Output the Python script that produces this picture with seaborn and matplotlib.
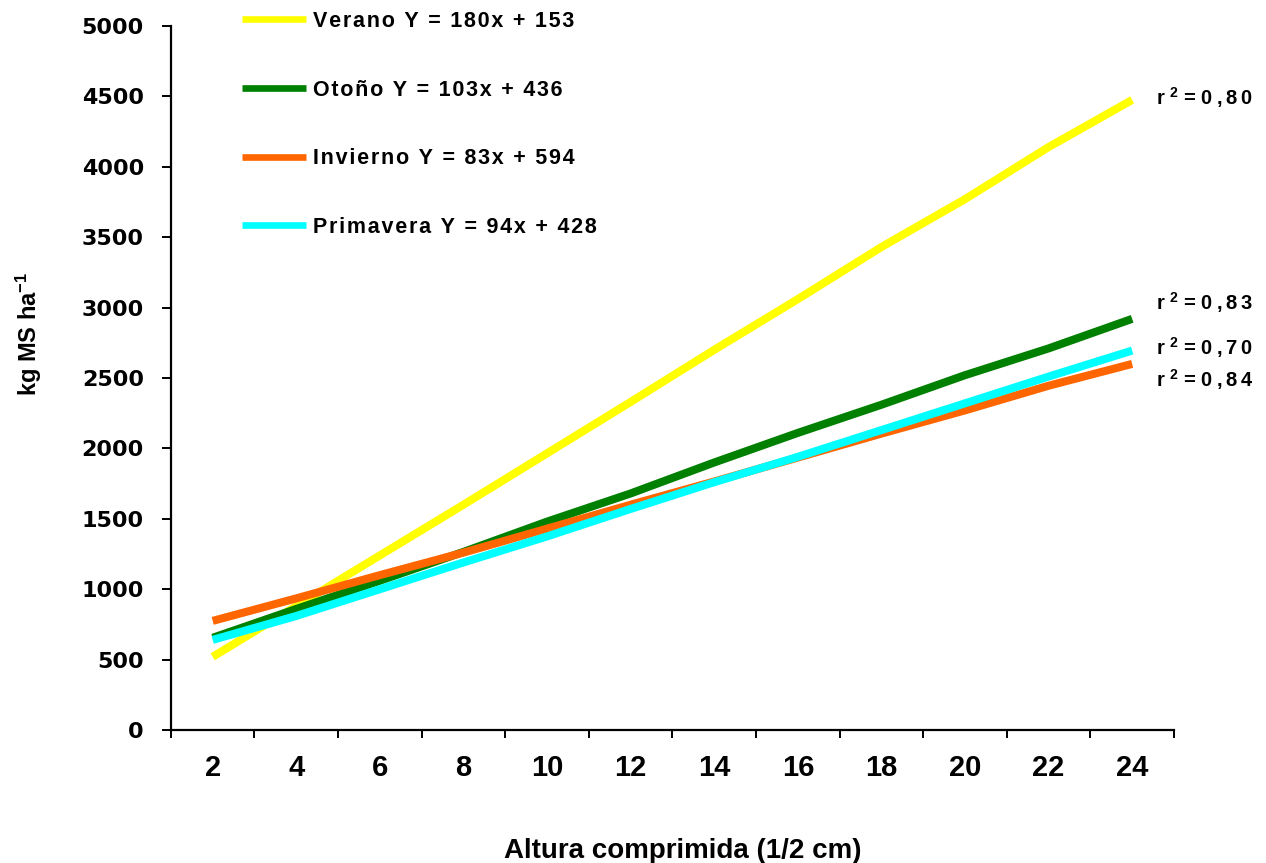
import numpy as np
import pandas as pd
import matplotlib
matplotlib.use("Agg")
import matplotlib.pyplot as plt
import seaborn as sns

# --- datos ---
alturas = ['2', '4', '6', '8', '10', '12', '14', '16', '18', '20', '22', '24']

verano = [520, 880, 1240, 1600, 1965, 2330, 2700, 3060, 3430, 3770, 4140, 4475]
otono = [655, 860, 1060, 1265, 1480, 1680, 1900, 2110, 2310, 2520, 2710, 2920]
invierno = [775, 935, 1100, 1260, 1430, 1600, 1765, 1935, 2105, 2270, 2445, 2600]
primavera = [640, 810, 1000, 1190, 1375, 1570, 1760, 1940, 2130, 2320, 2510, 2695]

estaciones = ['Verano', 'Otoño', 'Invierno', 'Primavera']
ecuaciones = ['Y = 180x + 153', 'Y = 103x + 436', 'Y = 83x + 594', 'Y = 94x + 428']
r2 = ['0,80', '0,83', '0,84', '0,70']
colores = ['#FFFF00', '#008000', '#FF6600', '#00FFFF']


def espaciar(txt, sep='\u200a'):
    # Excel dibuja el texto con mucho espaciado entre letras
    return sep.join(txt)


sns.set_style('white')
plt.rcParams['font.family'] = ['Liberation Sans', 'DejaVu Sans']
plt.rcParams['font.weight'] = 'bold'
plt.rcParams['text.color'] = 'black'
plt.rcParams['axes.labelcolor'] = 'black'
plt.rcParams['xtick.color'] = 'black'
plt.rcParams['ytick.color'] = 'black'
plt.rcParams['mathtext.fontset'] = 'custom'
plt.rcParams['mathtext.bf'] = 'Liberation Sans:bold'
plt.rcParams['mathtext.rm'] = 'Liberation Sans:bold'
plt.rcParams['mathtext.default'] = 'bf'

etiquetas = [f'{e} {q}' for e, q in zip(estaciones, ecuaciones)]
df = pd.DataFrame({
    'altura': alturas * 4,
    'kg': verano + otono + invierno + primavera,
    'serie': np.repeat(etiquetas, len(alturas)),
})

fig = plt.figure(figsize=(12.66, 8.63), dpi=100)
ax = fig.add_axes([0.135, 0.1541, 0.7923, 0.8158])

sns.lineplot(data=df, x='altura', y='kg', hue='serie', hue_order=etiquetas,
             palette=dict(zip(etiquetas, colores)), linewidth=5.8,
             sort=False, solid_capstyle='butt', ax=ax)

ax.set_xlim(-0.5, len(alturas) - 0.5)
ax.set_ylim(0, 5000)
ax.set_yticks(range(0, 5001, 500))
ax.set_xticks(range(len(alturas)))
ax.set_xticklabels(alturas)
ax.set_xticks(np.arange(-0.5, len(alturas), 1), minor=True)

for s in ['top', 'right']:
    ax.spines[s].set_visible(False)
for s in ['left', 'bottom']:
    ax.spines[s].set_color('black')
    ax.spines[s].set_linewidth(1.6)

ax.tick_params(axis='x', which='major', length=0, pad=17, labelsize=21)
ax.tick_params(axis='x', which='minor', length=6, width=1.4, color='black',
               direction='out', bottom=True)
ax.tick_params(axis='y', length=6.5, width=1.4, color='black', direction='out',
               left=True, pad=13)
for lab in ax.get_yticklabels():
    lab.set_family('DejaVu Sans')
    lab.set_fontsize(16)
    lab.set_fontweight('bold')

ax.set_xlabel('Altura comprimida (1/2 cm)', fontsize=20, fontweight='bold')
ax.set_ylabel(r'kg MS ha$^{-1}$', fontsize=17, fontweight='bold')
ax.xaxis.set_label_coords(0.510, -0.153)
ax.yaxis.set_label_coords(-0.127, 0.563)

# leyenda arriba, sin marco
handles, labels = ax.get_legend_handles_labels()
leg = ax.legend(handles, [espaciar(l) for l in labels], loc='upper left',
                bbox_to_anchor=(242 / 1266, 1 - 11 / 863),
                bbox_transform=fig.transFigure, frameon=False,
                fontsize=15.5, handlelength=2.95, handletextpad=0.33,
                labelspacing=2.21, borderpad=0, borderaxespad=0)
for ln in leg.get_lines():
    ln.set_linewidth(4.8)
    ln.set_solid_capstyle('butt')

# r2 al final de cada recta
finales = [verano[-1], otono[-1], invierno[-1], primavera[-1]]
desplaz = [2, 12, -11.5, 2.5]
for val, r, dy in zip(finales, r2, desplaz):
    txt = 'r $^{2}$ = ' + espaciar(r, '\u2009')
    ax.annotate(txt, xy=(len(alturas) - 1, val),
                xytext=(17, dy), textcoords='offset points',
                ha='left', va='center', fontsize=14.5, fontweight='bold',
                annotation_clip=False)

fig.savefig('out.png', dpi=100)
